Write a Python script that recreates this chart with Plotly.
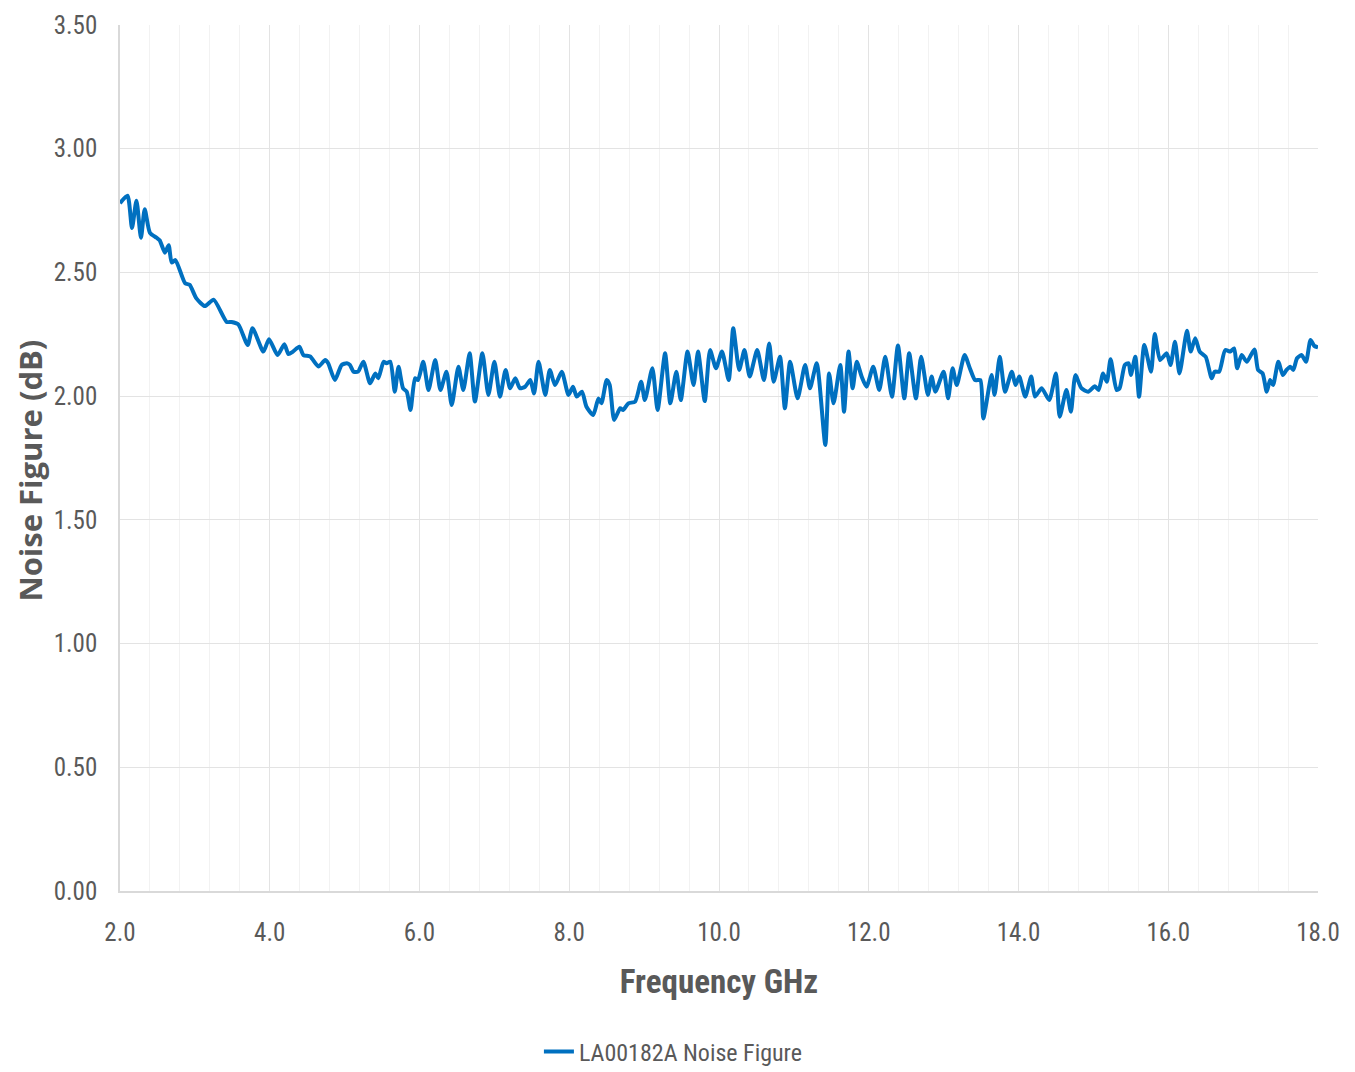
import plotly.graph_objects as go

freq_ghz = [
    2.00, 2.10, 2.16, 2.22, 2.28, 2.33, 2.40, 2.49, 2.53, 2.60, 2.65, 2.69, 2.74, 2.87, 2.93,
    3.02, 3.135, 3.25, 3.425, 3.49, 3.58, 3.705, 3.77, 3.915, 3.99, 4.105, 4.195, 4.25, 4.31,
    4.395, 4.45, 4.54, 4.65, 4.74, 4.78, 4.87, 4.96, 5.03, 5.07, 5.12, 5.18, 5.25, 5.34, 5.41,
    5.45, 5.52, 5.56, 5.61, 5.67, 5.72, 5.78, 5.83, 5.88, 5.94, 5.98, 6.05, 6.12, 6.21, 6.28,
    6.36, 6.43, 6.52, 6.585, 6.67, 6.74, 6.84, 6.92, 7.00, 7.075, 7.15, 7.21, 7.28, 7.34, 7.41,
    7.48, 7.53, 7.59, 7.68, 7.74, 7.81, 7.90, 7.99, 8.05, 8.10, 8.17, 8.23, 8.32, 8.39, 8.43,
    8.50, 8.54, 8.60, 8.68, 8.72, 8.79, 8.88, 8.96, 9.01, 9.11, 9.18, 9.28, 9.35, 9.43, 9.49,
    9.58, 9.66, 9.72, 9.81, 9.88, 9.96, 10.04, 10.13, 10.19, 10.27, 10.34, 10.41, 10.51, 10.60,
    10.67, 10.73, 10.815, 10.88, 10.95, 11.05, 11.15, 11.215, 11.305, 11.42, 11.47, 11.53,
    11.62, 11.67, 11.73, 11.785, 11.84, 11.905, 11.97, 12.06, 12.14, 12.22, 12.31, 12.39,
    12.475, 12.54, 12.63, 12.70, 12.79, 12.84, 12.89, 13.00, 13.06, 13.12, 13.175, 13.28,
    13.35, 13.42, 13.49, 13.53, 13.64, 13.68, 13.75, 13.82, 13.91, 13.96, 14.01, 14.09, 14.17,
    14.22, 14.31, 14.41, 14.50, 14.55, 14.64, 14.70, 14.76, 14.84, 14.93, 15.02, 15.07, 15.13,
    15.18, 15.23, 15.31, 15.35, 15.42, 15.47, 15.50, 15.56, 15.61, 15.68, 15.77, 15.82, 15.89,
    15.98, 16.03, 16.09, 16.15, 16.25, 16.30, 16.36, 16.42, 16.50, 16.58, 16.62, 16.68, 16.76,
    16.83, 16.88, 16.92, 16.98, 17.05, 17.15, 17.20, 17.26, 17.315, 17.36, 17.40, 17.47, 17.53,
    17.58, 17.63, 17.67, 17.72, 17.78, 17.84, 17.90, 17.95, 18.00,
]

noise_figure_db = [
    2.78, 2.81, 2.68, 2.79, 2.64, 2.755, 2.66, 2.64, 2.63, 2.58, 2.61, 2.54, 2.55, 2.456, 2.45,
    2.395, 2.364, 2.39, 2.30, 2.30, 2.29, 2.207, 2.274, 2.18, 2.23, 2.166, 2.21, 2.17, 2.18,
    2.20, 2.166, 2.16, 2.12, 2.146, 2.133, 2.065, 2.126, 2.133, 2.126, 2.099, 2.099, 2.139, 2.052, 2.092,
    2.072, 2.139, 2.133, 2.139, 2.018, 2.119, 2.032, 2.018, 1.944, 2.072, 2.065, 2.139, 2.025, 2.146, 2.025,
    2.099, 1.964, 2.119, 2.025, 2.173, 1.978, 2.173, 2.005, 2.139, 1.998, 2.106, 2.032, 2.072, 2.032, 2.038,
    2.065, 2.011, 2.139, 2.005, 2.106, 2.045, 2.099, 2.005, 2.038, 1.998, 2.018, 1.957, 1.924, 1.991, 1.971,
    2.065, 2.045, 1.904, 1.951, 1.944, 1.971, 1.978, 2.058, 1.984, 2.113, 1.944, 2.173, 1.971, 2.099, 1.984,
    2.18, 2.045, 2.18, 1.98, 2.186, 2.113, 2.18, 2.065, 2.274, 2.106, 2.186, 2.079, 2.186, 2.065,
    2.213, 2.058, 2.159, 1.951, 2.139, 1.991, 2.126, 2.032, 2.133, 1.803, 2.092, 1.971,
    2.126, 1.937, 2.18, 2.032, 2.139, 2.079, 2.038, 2.119, 2.025, 2.159, 1.998, 2.205,
    1.991, 2.173, 1.991, 2.159, 2.005, 2.079, 2.018, 2.099, 1.991, 2.113, 2.045, 2.166,
    2.113, 2.065, 2.065, 1.91, 2.085, 2.005, 2.159, 2.018, 2.099, 2.045, 2.079, 1.998, 2.079,
    1.998, 2.032, 1.984, 2.092, 1.917, 2.025, 1.937, 2.085, 2.032, 2.018, 2.04, 2.025, 2.092,
    2.058, 2.149, 2.025, 2.032, 2.126, 2.133, 2.085, 2.159, 1.998, 2.207, 2.099, 2.251, 2.146,
    2.173, 2.126, 2.22, 2.092, 2.264, 2.18, 2.234, 2.18, 2.159, 2.072, 2.099, 2.099, 2.186,
    2.18, 2.193, 2.113, 2.166, 2.139, 2.189, 2.106, 2.092, 2.018, 2.065, 2.045, 2.139, 2.085,
    2.106, 2.119, 2.106, 2.153, 2.166, 2.139, 2.227, 2.203, 2.197,
]

series_name = "LA00182A Noise Figure"
x_title = "Frequency GHz"
y_title = "Noise Figure (dB)"

TEXT = "#595959"
NARROW = "Liberation Sans Narrow, Arial Narrow, Roboto Condensed, sans-serif"

fig = go.Figure()
fig.add_trace(go.Scatter(
    x=freq_ghz, y=noise_figure_db, mode="lines", name=series_name,
    line=dict(color="#0070C0", width=4, shape="spline", smoothing=0.6),
))

fig.update_layout(
    width=1347, height=1064,
    margin=dict(l=112, r=37, t=17, b=181, autoexpand=False),
    paper_bgcolor="white", plot_bgcolor="white",
    showlegend=True,
    legend=dict(orientation="h", xref="container", yref="container",
                x=0.494, y=0.019, xanchor="center", yanchor="middle",
                font=dict(family=NARROW, size=24, color=TEXT)),
    font=dict(family=NARROW, color=TEXT),
    annotations=[dict(
        text=y_title, textangle=-90, showarrow=False,
        xref="paper", yref="paper", x=-0.0755, y=0.485,
        xanchor="center", yanchor="middle",
        font=dict(family="Open Sans, sans-serif", size=31, color=TEXT, weight="bold"),
    )],
)

fig.update_xaxes(
    range=[2, 18], dtick=2, tick0=2, tickformat=".1f", automargin=False,
    showgrid=True, gridcolor="#E3E3E3", gridwidth=1,
    minor=dict(dtick=0.4, tick0=2, showgrid=True, gridcolor="#F2F2F2", gridwidth=1),
    showline=True, linecolor="#D9D9D9", linewidth=1.5,
    ticks="outside", ticklen=18, tickcolor="rgba(0,0,0,0)",
    tickfont=dict(family=NARROW, size=25, color=TEXT),
    zeroline=False,
    title=dict(text=x_title, standoff=24,
               font=dict(family=NARROW, size=33, color=TEXT, weight="bold")),
)
fig.update_yaxes(
    range=[0, 3.5], dtick=0.5, tickformat=".2f", automargin=False,
    showgrid=True, gridcolor="#E3E3E3", gridwidth=1,
    showline=True, linecolor="#D9D9D9", linewidth=1.5,
    ticks="outside", ticklen=16, tickcolor="rgba(0,0,0,0)",
    tickfont=dict(family=NARROW, size=25, color=TEXT),
    zeroline=False,
)

fig.write_html("out.html")
